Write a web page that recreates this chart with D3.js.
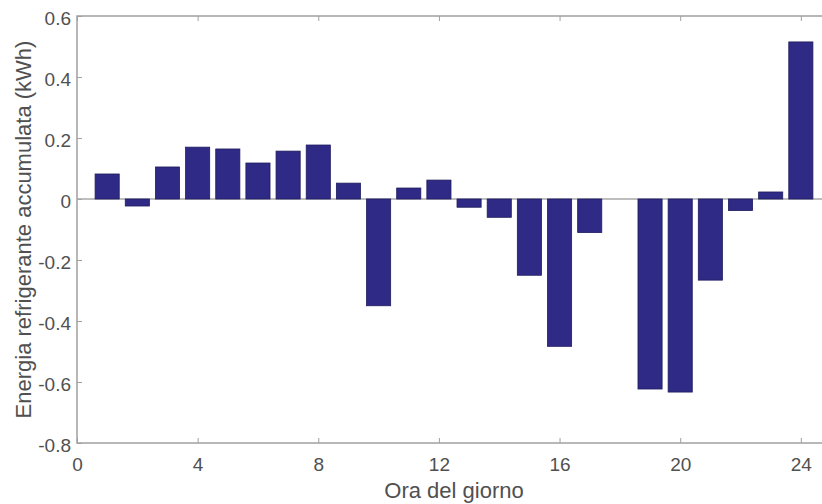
<!DOCTYPE html>
<html>
<head>
<meta charset="utf-8">
<script src="https://cdn.jsdelivr.net/npm/d3@7"></script>
<style>
  body { margin: 0; background: #fff; }
  svg { display: block; font-family: "Liberation Sans", Arial, sans-serif; }
</style>
</head>
<body>
<div id="chart"></div>
<script>
var svgWidth = 822;
var svgHeight = 504;

// hours of the day and the accumulated cold energy (kWh); hour 18 has no bar
var hours = [1, 2, 3, 4, 5, 6, 7, 8, 9, 10, 11, 12, 13, 14, 15, 16, 17, 18, 19, 20, 21, 22, 23, 24];
var energy = [0.082, -0.023, 0.105, 0.17, 0.164, 0.118, 0.157, 0.177, 0.052, -0.35, 0.036, 0.062,
  -0.027, -0.06, -0.25, -0.483, -0.11, 0, -0.623, -0.633, -0.266, -0.038, 0.023, 0.515];
var xTicks = [0, 4, 8, 12, 16, 20, 24];
var yTicks = [-0.8, -0.6, -0.4, -0.2, 0, 0.2, 0.4, 0.6];

var margin = {top: 16, left: 77};
var plotW = 754;   // x goes to 25, right edge falls outside the picture
var plotH = 427;

var svg = d3.select("#chart")
  .append("svg")
  .attr("width", svgWidth)
  .attr("height", svgHeight);

var g = svg.append("g")
  .attr("transform", `translate(${margin.left}, ${margin.top})`);

var x = d3.scaleLinear().domain([0, 25]).range([0, plotW]);
var y = d3.scaleLinear().domain([-0.8, 0.6]).range([plotH, 0]);

var axisColor = "#a0a0a0";
var textColor = "#505050";

// box
g.append("rect")
  .attr("x", 0).attr("y", 0)
  .attr("width", plotW).attr("height", plotH)
  .attr("fill", "none")
  .attr("stroke", axisColor)
  .attr("stroke-width", 1.5);

// inward ticks, bottom/top/left
var bottomAxis = d3.axisBottom(x).tickValues(xTicks).tickSize(-5).tickPadding(15).tickFormat(d3.format("d"));
var topAxis = d3.axisTop(x).tickValues(xTicks).tickSize(-5).tickFormat("");
var leftAxis = d3.axisLeft(y).tickValues(yTicks).tickSize(-5).tickPadding(6)
  .tickFormat(d => d === 0 ? "0" : d3.format(".1f")(d).replace("\u2212", "-"));

[
  g.append("g").attr("transform", `translate(0, ${plotH})`).call(bottomAxis),
  g.append("g").call(topAxis),
  g.append("g").call(leftAxis)
].forEach(function(a) {
  a.select(".domain").remove();
  a.selectAll(".tick line").attr("stroke", axisColor);
  a.selectAll(".tick text")
    .attr("fill", textColor)
    .style("font-size", "19px");
});
g.selectAll(".tick text").filter(function() { return d3.select(this).attr("x") !== null && +d3.select(this).attr("x") < 0; })
  .attr("dy", "0.45em");

// baseline at zero
g.append("line")
  .attr("x1", 0).attr("x2", plotW)
  .attr("y1", y(0)).attr("y2", y(0))
  .attr("stroke", "#a8a8a8")
  .attr("stroke-width", 1.5);

// bars
var barW = x(0.8) - x(0);
g.selectAll("rect.bar")
  .data(hours.map((h, i) => ({hour: h, value: energy[i]})).filter(d => d.value !== 0))
  .enter()
  .append("rect")
  .attr("class", "bar")
  .attr("x", d => x(d.hour) - barW / 2)
  .attr("y", d => y(Math.max(0, d.value)))
  .attr("width", barW)
  .attr("height", d => Math.abs(y(d.value) - y(0)))
  .attr("fill", "#2e2a86")
  .attr("stroke", "#1f1c5e")
  .attr("stroke-width", 0.8);

// axis labels
svg.append("text")
  .attr("transform", `translate(31, ${margin.top + plotH / 2}) rotate(-90)`)
  .attr("text-anchor", "middle")
  .attr("fill", textColor)
  .style("font-size", "22px")
  .text("Energia refrigerante accumulata (kWh)");

svg.append("text")
  .attr("x", margin.left + plotW / 2)
  .attr("y", 498)
  .attr("text-anchor", "middle")
  .attr("fill", textColor)
  .style("font-size", "22px")
  .text("Ora del giorno");
</script>
</body>
</html>
